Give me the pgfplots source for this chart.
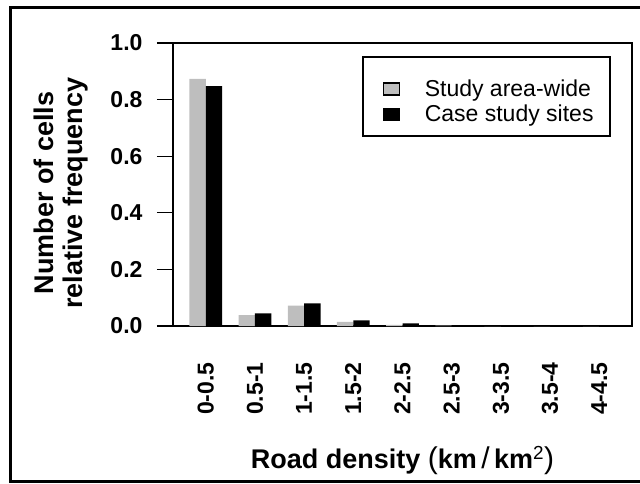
\documentclass[border=0pt]{standalone}
\usepackage{pgfplots}
\pgfplotsset{compat=1.18}
\usepackage{fontspec}
\setmainfont{Liberation Sans}
\definecolor{bargrey}{RGB}{190,190,190}
\begin{document}
\begin{tikzpicture}[x=1pt,y=1pt]
\useasboundingbox (0,0) rectangle (640,483);
\draw[line width=3pt] (10,1.5) rectangle (660,475);
\begin{axis}[
  at={(173pt,157pt)}, anchor=south west,
  scale only axis, width=459pt, height=283pt,
  xmin=0, xmax=28, ymin=0, ymax=1,
  axis line style={line width=1.3pt},
  /pgf/number format/assume math mode=true,
  xtick={2,5,8,11,14,17,20,23,26},
  xticklabels={0-0.5,0.5-1,1-1.5,1.5-2,2-2.5,2.5-3,3-3.5,3.5-4,4-4.5},
  xtick style={draw=none},
  xticklabel style={rotate=90, anchor=east, font=\fontsize{23}{27}\selectfont\bfseries},
  xticklabel shift=17pt,
  ytick={0,0.2,0.4,0.6,0.8,1.0},
  ytick pos=left,
  tick align=outside,
  major tick length=16pt,
  ytick style={line width=1.3pt, black},
  yticklabel style={font=\fontsize{23}{27}\selectfont\bfseries, /pgf/number format/.cd, fixed, fixed zerofill, precision=1},
  yticklabel shift=11pt,
  ylabel={Number of cells\\relative frequency},
  ylabel style={align=center, font=\fontsize{27}{29}\selectfont\bfseries, at={(axis description cs:-0.245,0.47)}, anchor=center},
  xlabel={Road density {\mdseries\fontsize{30}{30}\selectfont(}km\,{\mdseries\fontsize{30}{30}\selectfont/}\,km\textsuperscript{\mdseries 2}{\mdseries\fontsize{30}{30}\selectfont)}},
  xlabel style={font=\fontsize{27}{29}\selectfont\bfseries, at={(axis description cs:0.5,-0.475)}, anchor=center},
  legend style={at={(rel axis cs:0.4575,0.870)}, anchor=north west, draw=none, fill=none, font=\fontsize{23}{27}\selectfont, inner sep=0pt, row sep=7pt, column sep=0pt, nodes={inner sep=0pt}},
  legend cell align=left,
]
\addplot[ybar, bar width=1, bar shift=0, fill=bargrey, draw=none,
  legend image code/.code={\path (0pt,0) (41pt,0); \draw[fill=bargrey, draw=black, line width=1.2pt] (0pt,-6pt) rectangle (16pt,6pt);}]
  coordinates {(1.5,0.873) (4.5,0.038) (7.5,0.072) (10.5,0.015) (13.5,0.004) (16.5,0.001) (19.5,0) (22.5,0) (25.5,0)};
\addlegendentry{Study area-wide}
\addplot[ybar, bar width=1, bar shift=0, fill=black, draw=none,
  legend image code/.code={\path (0pt,0) (41pt,0); \draw[fill=black, draw=black, line width=1.2pt] (0pt,-6pt) rectangle (16pt,6pt);}]
  coordinates {(2.5,0.848) (5.5,0.045) (8.5,0.080) (11.5,0.020) (14.5,0.009) (17.5,0.001) (20.5,0) (23.5,0) (26.5,0)};
\addlegendentry{Case study sites}
\end{axis}
\draw[line width=1.3pt] (363,426) rectangle (610,347);
\end{tikzpicture}
\end{document}
